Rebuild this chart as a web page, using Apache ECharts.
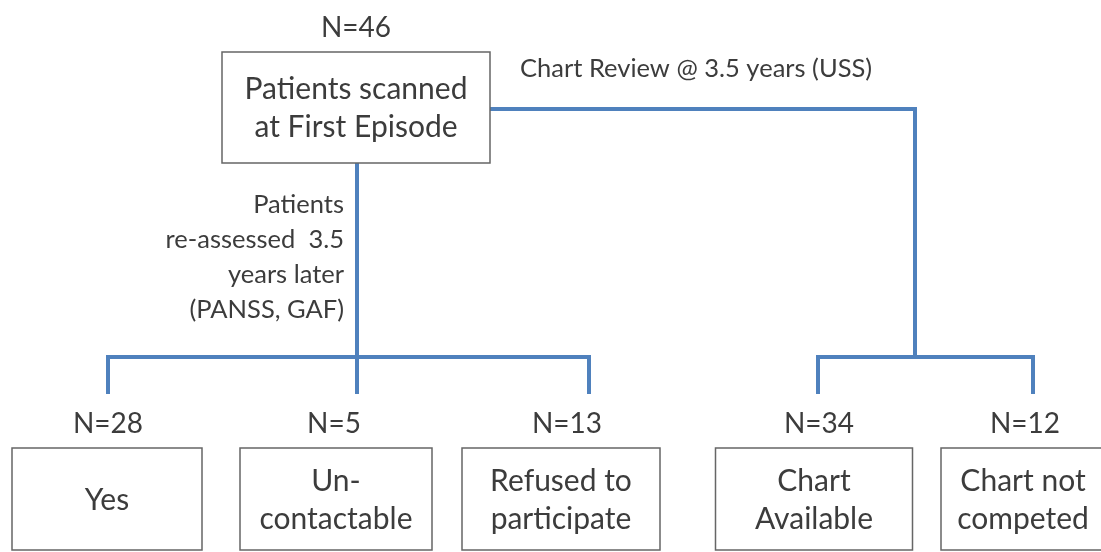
<!DOCTYPE html>
<html>
<head>
<meta charset="utf-8">
<script src="https://cdn.jsdelivr.net/npm/echarts@6/dist/echarts.min.js"></script>
<style>
  html, body { margin: 0; padding: 0; background: #fff; }
  #chart-container { width: 1101px; height: 552px; }
</style>
</head>
<body>
<div id="chart-container"></div>
<script>
// flow chart data
var rootLabel = 'Patients scanned\nat First Episode';
var rootCount = 46;
var outcomeLabels = ['Yes', 'Un-\ncontactable', 'Refused to\nparticipate', 'Chart\nAvailable', 'Chart not\ncompeted'];
var outcomeCounts = [28, 5, 13, 34, 12];
var branchNotes = ['Patients\nre-assessed  3.5\nyears later\n(PANSS, GAF)', 'Chart Review @ 3.5 years (USS)'];

// layout (page units, axis 0..1101 x 0..552)
var rootBox = [356, 107.5, 268, 111];
var outcomeBoxX = [107, 336, 561, 814, 1023];
var outcomeBoxW = [190, 192, 198, 197, 164];
var outcomeBoxY = 499, outcomeBoxH = 102;
var countY = 424;
var countX = [108, 334, 567, 819, 1025];
var dropX = [108, 357, 589, 818, 1033];
var forkY = 357, dropEnd = 392;
var reviewY = 109, reviewX = 915;

var textColor = '#3c3c3c';
var lineBlue = '#4f81bd';
var fontFam = 'Lato, "Open Sans", sans-serif';

var dom = document.getElementById('chart-container');
var myChart = echarts.init(dom, null, { renderer: 'canvas' });

var boxes = [rootBox].concat(outcomeBoxX.map(function (x, i) {
  return [x, outcomeBoxY, outcomeBoxW[i], outcomeBoxH];
}));
var boxLabels = [rootLabel].concat(outcomeLabels);

var counts = [[rootBox[0], 28]].concat(countX.map(function (x) { return [x, countY]; }));
var countLabels = [rootCount].concat(outcomeCounts).map(function (n) { return 'N=' + n; });

var notes = [[344, 257], [520, 69]];

function renderBox(params, api) {
  var cx = api.value(0), cy = api.value(1), w = api.value(2), h = api.value(3);
  var p0 = api.coord([cx - w / 2, cy - h / 2]);
  var p1 = api.coord([cx + w / 2, cy + h / 2]);
  var y0 = Math.min(p0[1], p1[1]);
  return {
    type: 'group',
    children: [
      {
        type: 'rect',
        shape: { x: p0[0], y: y0, width: p1[0] - p0[0], height: Math.abs(p1[1] - p0[1]) },
        style: { fill: '#fff', stroke: '#666', lineWidth: 1.5 }
      },
      {
        type: 'text',
        x: (p0[0] + p1[0]) / 2,
        y: (p0[1] + p1[1]) / 2 + 1,
        style: {
          text: boxLabels[params.dataIndex],
          fill: textColor, fontSize: 30, fontFamily: fontFam,
          align: 'center', verticalAlign: 'middle', lineHeight: 38
        }
      }
    ]
  };
}

function renderCount(params, api) {
  var p = api.coord([api.value(0), api.value(1)]);
  return {
    type: 'text', x: p[0], y: p[1],
    style: {
      text: countLabels[params.dataIndex], fill: textColor,
      fontSize: 28, fontFamily: fontFam, align: 'center', verticalAlign: 'middle'
    }
  };
}

function renderNote(params, api) {
  var p = api.coord([api.value(0), api.value(1)]);
  var i = params.dataIndex;
  return {
    type: 'text', x: p[0], y: p[1],
    style: {
      text: branchNotes[i], fill: textColor,
      fontSize: 25.5, fontFamily: fontFam, lineHeight: 35,
      align: i === 0 ? 'right' : 'left', verticalAlign: 'middle'
    }
  };
}

var connectors = [
  { coords: [[rootBox[0] + 1, rootBox[1] + rootBox[3] / 2], [dropX[1], dropEnd]] },
  { coords: [[dropX[0], dropEnd], [dropX[0], forkY], [dropX[2], forkY], [dropX[2], dropEnd]] },
  { coords: [[rootBox[0] + rootBox[2] / 2, reviewY], [reviewX, reviewY], [reviewX, forkY]] },
  { coords: [[dropX[3], dropEnd], [dropX[3], forkY], [dropX[4], forkY], [dropX[4], dropEnd]] }
];

var option = {
  animation: false,
  grid: { left: 0, right: 0, top: 0, bottom: 0 },
  xAxis: { type: 'value', min: 0, max: 1101, show: false },
  yAxis: { type: 'value', min: 0, max: 552, inverse: true, show: false },
  series: [
    {
      type: 'lines',
      coordinateSystem: 'cartesian2d',
      polyline: true,
      silent: true,
      lineStyle: { color: lineBlue, width: 4, opacity: 1, cap: 'square', join: 'miter' },
      data: connectors
    },
    { type: 'custom', renderItem: renderBox, data: boxes, silent: true, z: 3 },
    { type: 'custom', renderItem: renderCount, data: counts, silent: true, z: 3 },
    { type: 'custom', renderItem: renderNote, data: notes, silent: true, z: 3 }
  ]
};

myChart.setOption(option);
window.addEventListener('resize', myChart.resize);
</script>
</body>
</html>
